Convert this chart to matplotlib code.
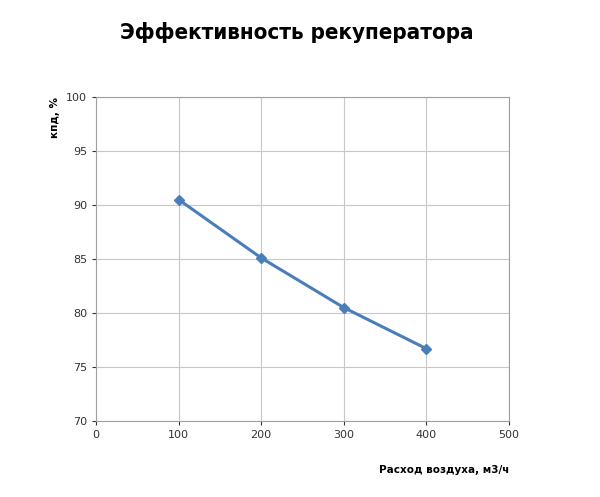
import matplotlib
matplotlib.use('Agg')
import matplotlib.pyplot as plt

flow = [100, 200, 300, 400]
efficiency = [90.5, 85.1, 80.5, 76.7]
x_ticks = [0, 100, 200, 300, 400, 500]
y_ticks = [70, 75, 80, 85, 90, 95, 100]

fig = plt.figure(figsize=(6, 4.97), dpi=100)
ax = fig.add_axes([0.16, 0.153, 0.688, 0.652])
ax.plot(flow, efficiency, color='#4a7ebb', lw=2.2, marker='D', markersize=5)
ax.set_xlim(0, 500)
ax.set_ylim(70, 100)
ax.set_xticks(x_ticks)
ax.set_yticks(y_ticks)
ax.grid(True, color='#c8c8c8', lw=0.8)
ax.set_axisbelow(True)
for s in ax.spines.values():
    s.set_color('#a0a0a0')
ax.tick_params(labelsize=8, colors='#333333', length=3)
ax.set_xlabel('Расход воздуха, м3/ч', fontsize=7.5, fontweight='bold', loc='right', labelpad=18)
ax.set_ylabel('кпд, %', fontsize=7.5, fontweight='bold', loc='top')
fig.text(0.495, 0.934, 'Эффективность рекуператора', ha='center', va='center',
         fontsize=16, fontweight='bold', family=['Liberation Sans Narrow', 'DejaVu Sans'],
         fontstretch='condensed')
fig.savefig('out.png')
